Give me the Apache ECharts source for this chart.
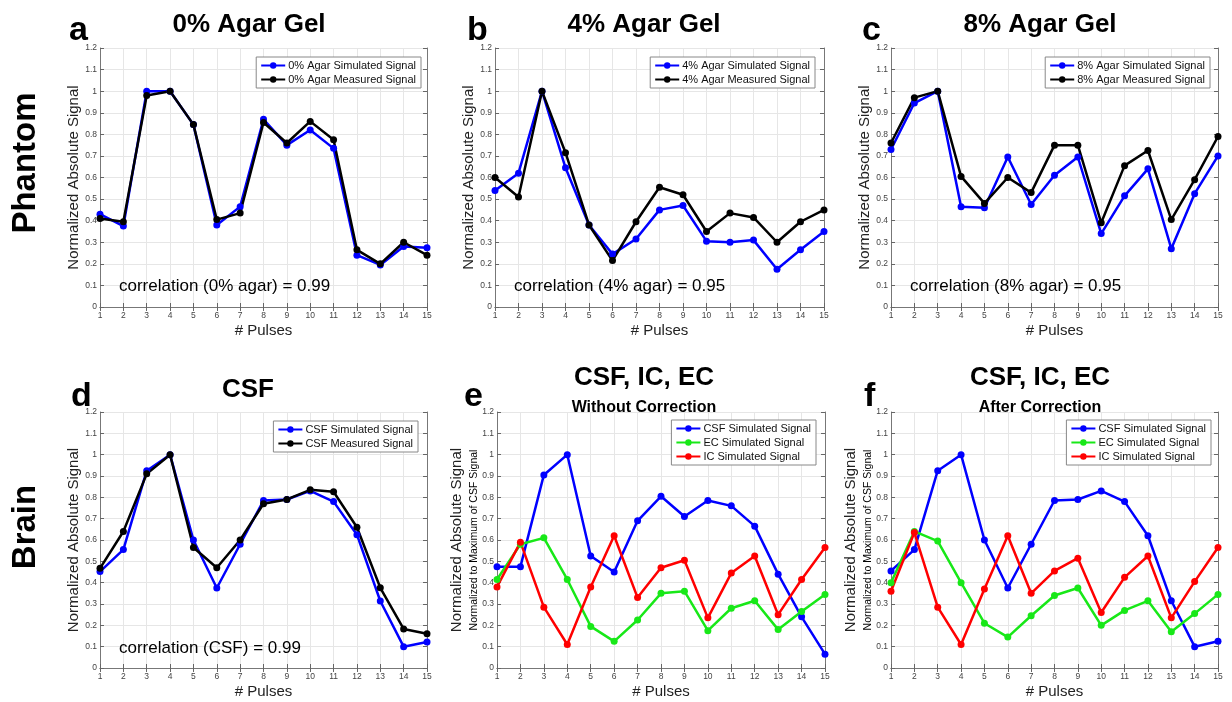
<!DOCTYPE html>
<html>
<head>
<meta charset="utf-8">
<script src="https://cdn.jsdelivr.net/npm/echarts@6/dist/echarts.min.js"></script>
<style>
html, body { margin: 0; padding: 0; background: #fff; }
#chart { width: 1232px; height: 702px; }
</style>
</head>
<body>
<div id="chart"></div>
<script>
// x values shared by every panel
var pulses = [1, 2, 3, 4, 5, 6, 7, 8, 9, 10, 11, 12, 13, 14, 15];

// phantom row
var agar0Sim  = [0.43, 0.375, 1.0, 1.0, 0.845, 0.38, 0.465, 0.87, 0.75, 0.82, 0.735, 0.24, 0.195, 0.28, 0.275];
var agar0Meas = [0.41, 0.395, 0.98, 1.0, 0.845, 0.405, 0.435, 0.855, 0.76, 0.86, 0.775, 0.265, 0.20, 0.30, 0.24];
var agar4Sim  = [0.54, 0.62, 1.0, 0.645, 0.38, 0.245, 0.315, 0.45, 0.47, 0.305, 0.30, 0.31, 0.175, 0.265, 0.35];
var agar4Meas = [0.60, 0.51, 1.0, 0.715, 0.38, 0.215, 0.395, 0.555, 0.52, 0.35, 0.435, 0.415, 0.30, 0.395, 0.45];
var agar8Sim  = [0.73, 0.945, 1.0, 0.465, 0.46, 0.695, 0.475, 0.61, 0.695, 0.34, 0.515, 0.64, 0.27, 0.525, 0.70];
var agar8Meas = [0.76, 0.97, 1.0, 0.605, 0.48, 0.60, 0.53, 0.75, 0.75, 0.39, 0.655, 0.725, 0.405, 0.59, 0.79];

// brain row
var csfSim  = [0.452, 0.555, 0.925, 1.0, 0.60, 0.375, 0.58, 0.785, 0.79, 0.83, 0.78, 0.625, 0.314, 0.10, 0.122];
var csfMeas = [0.467, 0.64, 0.91, 1.0, 0.565, 0.47, 0.60, 0.77, 0.79, 0.835, 0.826, 0.66, 0.376, 0.183, 0.161];
var rawCsf  = [0.475, 0.475, 0.905, 1.0, 0.525, 0.45, 0.69, 0.805, 0.71, 0.785, 0.76, 0.665, 0.44, 0.24, 0.065];
var rawEc   = [0.415, 0.58, 0.61, 0.415, 0.195, 0.125, 0.225, 0.35, 0.36, 0.175, 0.28, 0.315, 0.18, 0.265, 0.345];
var rawIc   = [0.38, 0.59, 0.285, 0.11, 0.38, 0.62, 0.33, 0.47, 0.505, 0.235, 0.445, 0.525, 0.25, 0.415, 0.565];
var corCsf  = [0.455, 0.555, 0.925, 1.0, 0.60, 0.375, 0.58, 0.785, 0.79, 0.83, 0.78, 0.62, 0.315, 0.10, 0.125];
var corEc   = [0.40, 0.64, 0.595, 0.40, 0.21, 0.145, 0.245, 0.34, 0.375, 0.20, 0.27, 0.315, 0.17, 0.255, 0.345];
var corIc   = [0.36, 0.635, 0.285, 0.11, 0.37, 0.62, 0.35, 0.455, 0.515, 0.26, 0.425, 0.525, 0.235, 0.405, 0.565];

var panelTitles = ['0% Agar Gel', '4% Agar Gel', '8% Agar Gel', 'CSF', 'CSF, IC, EC', 'CSF, IC, EC'];
var panelSubtitles = ['', '', '', '', 'Without Correction', 'After Correction'];
var panelLetters = ['a', 'b', 'c', 'd', 'e', 'f'];
var correlations = ['correlation (0% agar) = 0.99', 'correlation (4% agar) = 0.95',
                    'correlation (8% agar) = 0.95', 'correlation (CSF) = 0.99', '', ''];

var BLUE = '#0000ff', BLACK = '#000000', GREEN = '#18e818', RED = '#ff0000';
var FONT = "'Liberation Sans', Arial, Helvetica, sans-serif";

var panels = [
    { grid: { left: 100, top: 48, width: 327, height: 259 }, legend: { right: 811, top: 57 }, nameGap: 15,
      series: [['0% Agar Simulated Signal', agar0Sim, BLUE], ['0% Agar Measured Signal', agar0Meas, BLACK]] },
    { grid: { left: 495, top: 48, width: 329, height: 259 }, legend: { right: 417, top: 57 }, nameGap: 15,
      series: [['4% Agar Simulated Signal', agar4Sim, BLUE], ['4% Agar Measured Signal', agar4Meas, BLACK]] },
    { grid: { left: 891, top: 48, width: 327, height: 259 }, legend: { right: 22, top: 57 }, nameGap: 15,
      series: [['8% Agar Simulated Signal', agar8Sim, BLUE], ['8% Agar Measured Signal', agar8Meas, BLACK]] },
    { grid: { left: 100, top: 412, width: 327, height: 256 }, legend: { right: 814, top: 421 }, nameGap: 15,
      series: [['CSF Simulated Signal', csfSim, BLUE], ['CSF Measured Signal', csfMeas, BLACK]] },
    { grid: { left: 497, top: 412, width: 328, height: 256 }, legend: { right: 416, top: 420 }, nameGap: 33,
      series: [['CSF Simulated Signal', rawCsf, BLUE], ['EC Simulated Signal', rawEc, GREEN], ['IC Simulated Signal', rawIc, RED]] },
    { grid: { left: 891, top: 412, width: 327, height: 256 }, legend: { right: 21, top: 420 }, nameGap: 33,
      series: [['CSF Simulated Signal', corCsf, BLUE], ['EC Simulated Signal', corEc, GREEN], ['IC Simulated Signal', corIc, RED]] }
];

var grids = [], xAxes = [], yAxes = [], series = [], legends = [], graphics = [];

var tickStyle = { inside: true, length: 4, lineStyle: { color: '#666' } };
var lineAxis = { lineStyle: { color: '#777', width: 1 } };

panels.forEach(function (p, i) {
    grids.push(p.grid);
    // bottom + top x axes
    xAxes.push({
        gridIndex: i, type: 'value', min: 1, max: 15, interval: 1,
        name: '# Pulses', nameLocation: 'middle', nameGap: 16,
        nameTextStyle: { fontSize: 15, color: '#222', fontFamily: FONT },
        axisLine: lineAxis, axisTick: tickStyle,
        axisLabel: { fontSize: 8.5, color: '#444', margin: 4, fontFamily: FONT },
        splitLine: { show: true, lineStyle: { color: '#e6e6e6' } }
    });
    xAxes.push({
        gridIndex: i, type: 'value', position: 'top', min: 1, max: 15, interval: 1,
        axisLine: lineAxis, axisTick: tickStyle, axisLabel: { show: false }, splitLine: { show: false }
    });
    yAxes.push({
        gridIndex: i, type: 'value', min: 0, max: 1.2, interval: 0.1,
        name: 'Normalized Absolute Signal', nameLocation: 'middle', nameGap: p.nameGap,
        nameTextStyle: { fontSize: 15, color: '#222', fontFamily: FONT },
        axisLine: lineAxis, axisTick: tickStyle,
        axisLabel: {
            fontSize: 8.5, color: '#444', margin: 3, fontFamily: FONT,
            formatter: function (v) { return String(Math.round(v * 10) / 10); }
        },
        splitLine: { show: true, lineStyle: { color: '#e6e6e6' } }
    });
    yAxes.push({
        gridIndex: i, type: 'value', position: 'right', min: 0, max: 1.2, interval: 0.1,
        axisLine: lineAxis, axisTick: tickStyle, axisLabel: { show: false }, splitLine: { show: false }
    });

    var names = [];
    p.series.forEach(function (s) {
        names.push(s[0]);
        series.push({
            name: s[0], type: 'line', xAxisIndex: 2 * i, yAxisIndex: 2 * i,
            data: pulses.map(function (x, k) { return [x, s[1][k]]; }),
            symbol: 'circle', symbolSize: 7,
            itemStyle: { color: s[2] },
            lineStyle: { color: s[2], width: 2.5 },
            animation: false
        });
    });
    legends.push({
        data: names, orient: 'vertical', right: p.legend.right, top: p.legend.top,
        itemWidth: 24, itemHeight: 8, itemGap: 3, padding: [3, 5, 3, 4],
        backgroundColor: '#fff', borderColor: '#888', borderWidth: 1,
        textStyle: { fontSize: 11, color: '#111', fontFamily: FONT, padding: [0, 0, 0, -2] },
        selectedMode: false
    });
});

function addText(text, x, y, font, opts) {
    opts = opts || {};
    graphics.push({
        type: 'text', x: x, y: y, rotation: opts.rotation || 0, z: 100,
        style: {
            text: text, font: font, fill: '#000',
            textAlign: opts.align || 'center', align: opts.align || 'center',
            textVerticalAlign: 'middle', verticalAlign: 'middle'
        }
    });
}

// row labels
addText('Phantom', 26, 163, 'bold 33px ' + FONT, { rotation: Math.PI / 2 });
addText('Brain', 26, 527, 'bold 33px ' + FONT, { rotation: Math.PI / 2 });

// panel letters, titles, correlation notes
var titleX = [249, 644, 1040, 248, 644, 1040];
var letterX = [69, 467, 862, 71, 464, 864];
panels.forEach(function (p, i) {
    var top = i < 3;
    addText(panelLetters[i], letterX[i], top ? 31 : 397, 'bold 34px ' + FONT, { align: 'left' });
    if (panelSubtitles[i]) {
        addText(panelTitles[i], titleX[i], 378, 'bold 26px ' + FONT);
        addText(panelSubtitles[i], titleX[i], 408, 'bold 16px ' + FONT);
    } else {
        addText(panelTitles[i], titleX[i], top ? 25 : 390, 'bold 26px ' + FONT);
    }
    if (correlations[i]) {
        addText(correlations[i], p.grid.left + 19, top ? 286 : 648, '17px ' + FONT, { align: 'left' });
    }
});

// second y label on e and f
addText('Normalized to Maximum of CSF Signal', 474, 540, '10.5px ' + FONT, { rotation: Math.PI / 2 });
addText('Normalized to Maximum of CSF Signal', 868, 540, '10.5px ' + FONT, { rotation: Math.PI / 2 });

var myChart = echarts.init(document.getElementById('chart'));
myChart.setOption({
    backgroundColor: '#fff',
    animation: false,
    grid: grids,
    xAxis: xAxes,
    yAxis: yAxes,
    legend: legends,
    series: series,
    graphic: graphics
});
</script>
</body>
</html>
